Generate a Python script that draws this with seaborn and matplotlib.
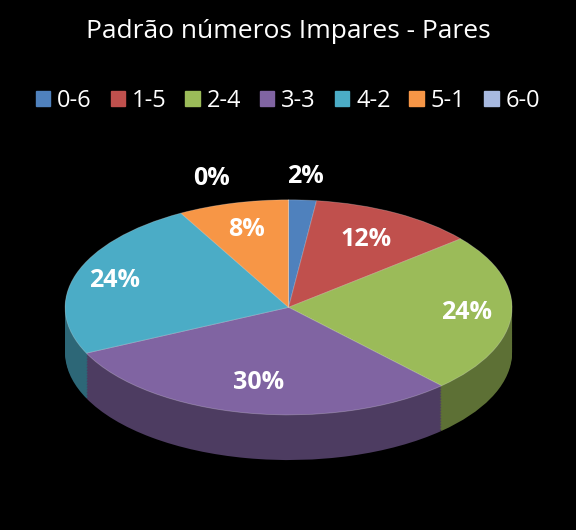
import numpy as np
import matplotlib.pyplot as plt
import matplotlib.colors as mcolors
import seaborn as sns

sns.set_theme(style="white")
plt.rcParams['font.family'] = ['Open Sans', 'DejaVu Sans']

categories = ['0-6', '1-5', '2-4', '3-3', '4-2', '5-1', '6-0']
values = [2, 12, 24, 30, 24, 8, 0.0001]
labels = ['2%', '12%', '24%', '30%', '24%', '8%', '0%']
colors = ['#4F81BD', '#C0504D', '#9BBB59', '#8064A2', '#4BACC6', '#F79646', '#A7B9E0']

fig = plt.figure(figsize=(5.76, 5.30), dpi=100, facecolor='black')
ax = fig.add_axes([0.113, 0.132, 0.776, 0.491])
ax.set_facecolor('black')

depth = 0.42
dark = [tuple(c * 0.6 for c in mcolors.to_rgb(col)) for col in colors]
for off in np.linspace(-depth, 0, 30)[:-1]:
    ax.pie(values, colors=dark, startangle=90, counterclock=False,
           center=(0, off), radius=1, wedgeprops=dict(linewidth=0))
wedges, _ = ax.pie(values, colors=colors, startangle=90, counterclock=False,
                   center=(0, 0), radius=1,
                   wedgeprops=dict(linewidth=0.6, edgecolor=(1, 1, 1, 0.25)))
ax.set_aspect('auto')
ax.set_xlim(-1, 1)
ax.set_ylim(-1 - depth, 1)
ax.axis('off')

total = sum(values)
cum = np.cumsum(values) - np.array(values) / 2
radii = [1.22, 0.72, 0.8, 0.71, 0.82, 0.75, 1.25]
shift = [0, 0, 0, 0, 0, 0, -16]
for lab, c, r, s in zip(labels, cum, radii, shift):
    th = np.deg2rad(c / total * 360 + s)
    x, y = r * np.sin(th), r * np.cos(th)
    ax.text(x, y, lab, color='white', fontsize=18, fontweight='bold',
            ha='center', va='center')
# leader line for 0%
ax.plot([-0.21, 0.0], [1.16, 1.0], color='white', lw=0.8)

fig.text(0.5, 0.94, 'Padrão números Impares - Pares', color='white',
         fontsize=19, ha='center', va='center')
handles = [plt.Rectangle((0, 0), 1, 1, color=c) for c in colors]
fig.legend(handles, categories, loc='center', bbox_to_anchor=(0.5, 0.81),
           ncol=7, frameon=False, fontsize=17, labelcolor='white',
           handlelength=0.6, handleheight=0.6, handletextpad=0.3, columnspacing=0.8)

fig.savefig('out.png', dpi=100, facecolor='black')
